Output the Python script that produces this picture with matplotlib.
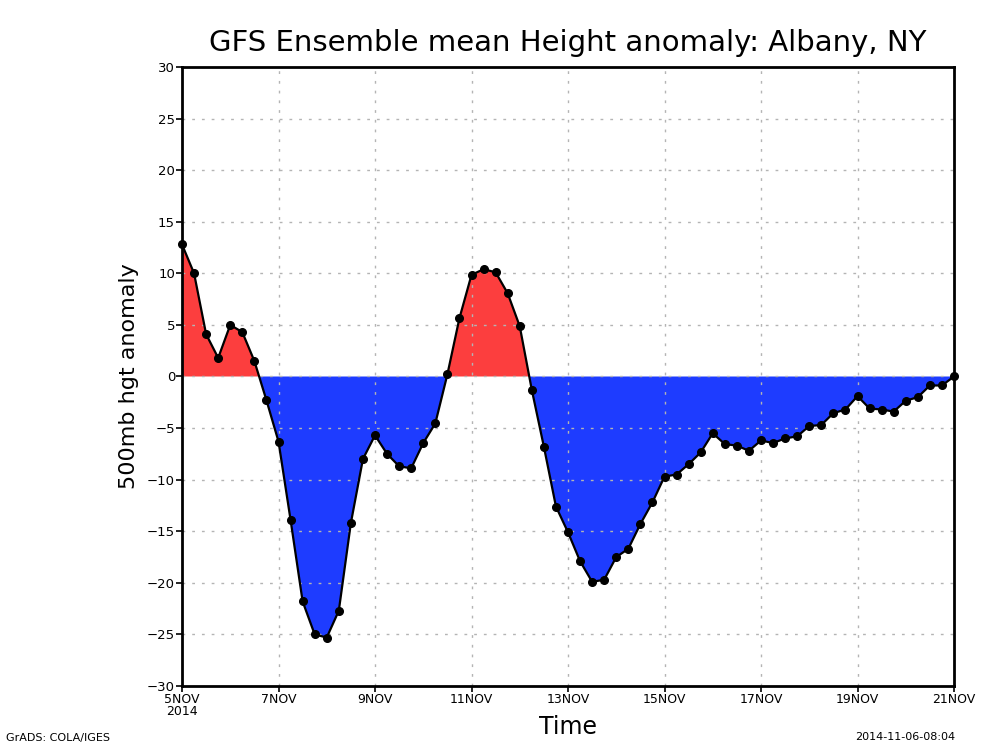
import numpy as np
import matplotlib
matplotlib.use("Agg")
import matplotlib.pyplot as plt

# 6-hourly ensemble mean 500mb height anomaly, 5 NOV 00Z to 21 NOV 00Z 2014
step_hours = 6
anomaly = [
    12.8, 10.0, 4.1, 1.8, 5.0, 4.3, 1.5, -2.3, -6.3, -13.9,
    -21.8, -25.0, -25.3, -22.7, -14.2, -8.0, -5.7, -7.5, -8.7, -8.9,
    -6.45, -4.55, 0.2, 5.65, 9.85, 10.4, 10.1, 8.06, 4.87, -1.3,
    -6.8, -12.6, -15.1, -17.9, -19.9, -19.7, -17.5, -16.7, -14.3, -12.2,
    -9.7, -9.5, -8.5, -7.36, -5.5, -6.55, -6.7, -7.2, -6.2, -6.45,
    -6.0, -5.8, -4.8, -4.7, -3.55, -3.2, -1.9, -3.1, -3.2, -3.4,
    -2.35, -2.0, -0.87, -0.87, 0.0,
]
tick_days = [0, 2, 4, 6, 8, 10, 12, 14, 16]
tick_labels = ["5NOV\n2014", "7NOV", "9NOV", "11NOV", "13NOV", "15NOV", "17NOV", "19NOV", "21NOV"]
y_ticks = [-30, -25, -20, -15, -10, -5, 0, 5, 10, 15, 20, 25, 30]

title = "GFS Ensemble mean Height anomaly: Albany, NY"

y = np.array(anomaly)
x = np.arange(len(y)) * step_hours / 24.0

fig = plt.figure(figsize=(10, 7.5), dpi=100)
ax = fig.add_axes([0.182, 0.0853, 0.772, 0.8254])

ax.fill_between(x, 0, y, where=y >= 0, interpolate=True, color="#fc3e3e", lw=0, zorder=1)
ax.fill_between(x, 0, y, where=y <= 0, interpolate=True, color="#1e3cff", lw=0, zorder=1)
ax.grid(True, color="#b4b4b4", linestyle=(0, (2, 5)), linewidth=1.0, zorder=2)
ax.set_axisbelow(False)
ax.plot(x, y, color="black", lw=1.6, marker="o", markersize=5.5, zorder=3, clip_on=False)

ax.set_xlim(0, 16)
ax.set_ylim(-30, 30)
ax.set_xticks(tick_days)
ax.set_xticklabels(tick_labels, fontsize=9, linespacing=0.9)
ax.set_yticks(y_ticks)
ax.set_yticklabels([str(v).replace("-", "\u2212") for v in y_ticks], fontsize=9.5)
ax.tick_params(direction="out", length=4, width=1.2, pad=1)
for s in ax.spines.values():
    s.set_linewidth(2)
    s.set_zorder(4)

ax.set_ylabel("500mb hgt anomaly", fontsize=16, labelpad=6)
fig.text(0.568, 0.031, "Time", fontsize=17, ha="center", va="center")
fig.text(0.568, 0.943, title, fontsize=21, ha="center", va="center")
fig.text(0.006, 0.01, "GrADS: COLA/IGES", fontsize=8, ha="left", va="bottom")
fig.text(0.955, 0.01, "2014-11-06-08:04", fontsize=8, ha="right", va="bottom")

fig.savefig("out.png", dpi=100)
